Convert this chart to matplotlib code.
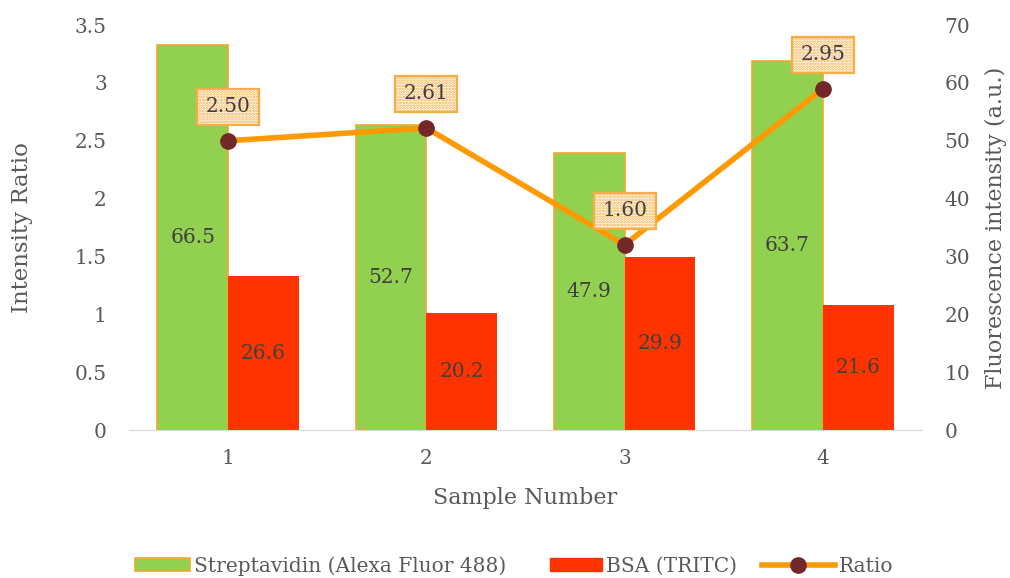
import matplotlib
matplotlib.use("Agg")
import matplotlib.pyplot as plt
import numpy as np
from matplotlib.lines import Line2D
from matplotlib.patches import Patch

samples = ["1", "2", "3", "4"]
streptavidin = [66.5, 52.7, 47.9, 63.7]
bsa = [26.6, 20.2, 29.9, 21.6]
ratio = [2.50, 2.61, 1.60, 2.95]

green = "#92D050"
red = "#FF3300"
orange = "#FF9900"
marker_col = "#722828"
text_col = "#404040"
tick_col = "#595959"

plt.rcParams["font.family"] = ["DejaVu Serif"]
plt.rcParams["hatch.linewidth"] = 1.3

fig = plt.figure(figsize=(10.10, 5.78), dpi=100)
ax_r = fig.add_axes([0.1277, 0.256, 0.7852, 0.7007])  # bars (right axis)
ax_l = ax_r.twinx()  # ratio line (left axis)
ax_l.yaxis.tick_left()
ax_l.yaxis.set_label_position("left")
ax_r.yaxis.tick_right()
ax_r.yaxis.set_label_position("right")

x = np.arange(len(samples))
w = 0.357
ax_r.bar(x - w / 2, streptavidin, w, color=green, edgecolor="#F0A830", linewidth=1.2)
ax_r.bar(x + w / 2, bsa, w, color=red, edgecolor=red, linewidth=0)
ax_r.set_ylim(0, 70)
ax_r.set_yticks(np.arange(0, 71, 10))
ax_r.set_xlim(-0.5, 3.5)

lbl_size = 14.5
for xi, v in zip(x - w / 2, streptavidin):
    ax_r.text(xi, v / 2, f"{v:.1f}", ha="center", va="center", fontsize=lbl_size, color=text_col)
for xi, v in zip(x + w / 2, bsa):
    ax_r.text(xi, v / 2, f"{v:.1f}", ha="center", va="center", fontsize=lbl_size, color=text_col)

ax_l.plot(x, ratio, color=orange, linewidth=4, marker="o", markersize=11,
          markerfacecolor=marker_col, markeredgecolor=marker_col, zorder=5)
ax_l.set_ylim(0, 3.5)
ax_l.set_yticks(np.arange(0, 3.51, 0.5))
ax_l.set_yticklabels(["0", "0.5", "1", "1.5", "2", "2.5", "3", "3.5"])

for xi, v in zip(x, ratio):
    ax_l.annotate(f"{v:.2f}", (xi, v), xytext=(0, 24.5), textcoords="offset points",
                  ha="center", va="center", fontsize=lbl_size, color=text_col, zorder=6,
                  bbox=dict(boxstyle="square,pad=0.42", facecolor="white",
                            edgecolor="#F5AE45", linewidth=1.6, hatch="......"))
# keep line above bars
ax_l.set_zorder(ax_r.get_zorder() + 1)
ax_l.patch.set_visible(False)

for a in (ax_l, ax_r):
    for s in ("top", "left", "right"):
        a.spines[s].set_visible(False)
    a.spines["bottom"].set_color("#D9D9D9")
    a.tick_params(axis="y", length=0, labelsize=14.5, labelcolor=tick_col, pad=16)
ax_l.spines["bottom"].set_visible(False)

ax_r.set_xticks(x)
ax_r.set_xticklabels(samples)
ax_r.tick_params(axis="x", length=0, labelsize=14.5, labelcolor=tick_col, pad=14)
ax_r.set_xlabel("Sample Number", fontsize=16, color=tick_col, labelpad=13)
ax_l.set_ylabel("Intensity Ratio", fontsize=16.5, color=tick_col, labelpad=30)
ax_r.set_ylabel("Fluorescence intensity (a.u.)", fontsize=16, color=tick_col, labelpad=11)

# legend entries, laid out one by one along the bottom
entries = [
    (Patch(facecolor=green, edgecolor="#F0A830", linewidth=1.2),
     "Streptavidin (Alexa Fluor 488)", 135, 2.75),
    (Patch(facecolor=red, edgecolor=red), "BSA (TRITC)", 550, 2.6),
    (Line2D([0], [0], color=orange, linewidth=4, marker="o", markersize=11,
            markerfacecolor=marker_col, markeredgecolor=marker_col),
     "Ratio", 762, 3.6),
]
W, H = fig.get_size_inches() * fig.dpi
for handle, text, px, hl in entries:
    leg = fig.legend([handle], [text], loc="center left",
                     bbox_to_anchor=(px / W, 1 - 566 / H), frameon=False,
                     fontsize=14.5, handlelength=hl, handleheight=0.62,
                     handletextpad=0.2, borderpad=0, borderaxespad=0)
    for t in leg.get_texts():
        t.set_color(tick_col)

fig.savefig("out.png", dpi=100)
